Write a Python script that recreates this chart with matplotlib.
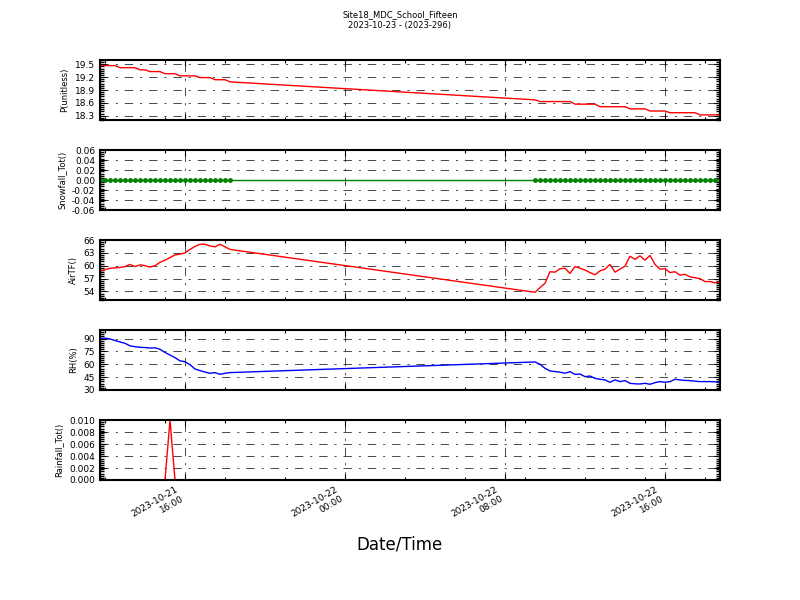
import numpy as np
import pandas as pd
import matplotlib
matplotlib.use('Agg')
import matplotlib.pyplot as plt
import matplotlib.dates as mdates
from matplotlib.ticker import MultipleLocator

title = 'Site18_MDC_School_Fifteen\n2023-10-23 - (2023-296)'

# two logging stretches, 15 min apart, with a gap overnight
times_a = pd.date_range('2023-10-21 11:45', '2023-10-21 18:15', freq='15min')
times_b = pd.date_range('2023-10-22 09:30', '2023-10-22 18:45', freq='15min')

pressure_a = [19.47, 19.47, 19.47, 19.47, 19.42, 19.42, 19.42, 19.42, 19.37, 19.37,
              19.33, 19.33, 19.33, 19.28, 19.28, 19.28, 19.23, 19.23, 19.23, 19.23,
              19.19, 19.19, 19.19, 19.14, 19.14, 19.14, 19.09]
pressure_b = [18.67, 18.63, 18.63, 18.63, 18.63, 18.63, 18.63, 18.63, 18.57, 18.57,
              18.57, 18.57, 18.57, 18.51, 18.51, 18.51, 18.51, 18.51, 18.51, 18.46,
              18.46, 18.46, 18.46, 18.41, 18.41, 18.41, 18.41, 18.37, 18.37, 18.37,
              18.37, 18.37, 18.37, 18.32, 18.32, 18.32, 18.32, 18.32]

air_a = [58.7, 59.1, 59.4, 59.5, 59.6, 59.8, 60.3, 59.8, 60.2, 60.0,
         59.7, 60.0, 60.8, 61.3, 61.9, 62.5, 62.7, 63.0, 63.8, 64.5,
         65.0, 65.0, 64.6, 64.4, 65.0, 64.4, 63.8]
air_b = [53.8, 54.9, 55.9, 58.6, 58.5, 59.3, 59.4, 58.2, 59.8, 59.4,
         59.0, 58.4, 57.9, 58.8, 59.2, 60.3, 58.5, 59.2, 59.9, 62.2,
         61.5, 62.3, 61.3, 62.4, 60.3, 59.2, 59.3, 58.4, 58.6, 57.8,
         58.0, 57.4, 57.2, 57.0, 56.3, 56.3, 56.0, 56.3]

rh_a = [90.0, 90.5, 89.5, 87.8, 86.0, 84.5, 81.5, 80.5, 79.8, 79.5,
        79.0, 79.2, 77.5, 73.8, 70.8, 67.7, 64.0, 63.0, 59.5, 54.5,
        52.6, 51.0, 49.5, 50.3, 48.3, 49.5, 50.3]
rh_b = [62.7, 60.0, 55.3, 52.2, 51.5, 50.8, 49.6, 51.4, 48.2, 48.6,
        45.6, 46.3, 43.6, 42.5, 41.8, 39.0, 41.8, 39.8, 41.0, 37.8,
        37.2, 37.0, 37.8, 36.7, 38.6, 39.8, 39.0, 39.8, 42.5, 41.8,
        41.2, 41.0, 40.3, 39.8, 39.8, 39.8, 39.6, 38.6]

snow_a = [0.0] * 27
snow_b = [0.0] * 38

rain_a = [0.0] * 14 + [0.01] + [0.0] * 12
rain_b = [0.0] * 38

t = times_a.append(times_b)
pressure = pressure_a + pressure_b
air = air_a + air_b
rh = rh_a + rh_b
snow = snow_a + snow_b
rain = rain_a + rain_b

panels = [
    (pressure, 'r-', 'P(unitless)', (18.2, 19.6), [18.3, 18.6, 18.9, 19.2, 19.5], '%.1f'),
    (snow, 'g.-', 'Snowfall_Tot()', (-0.06, 0.06), [-0.06, -0.04, -0.02, 0.0, 0.02, 0.04, 0.06], '%.2f'),
    (air, 'r-', 'AirTF()', (52, 66), [54, 57, 60, 63, 66], '%d'),
    (rh, 'b-', 'RH(%)', (30, 100), [30, 45, 60, 75, 90], '%d'),
    (rain, 'r-', 'Rainfall_Tot()', (0, 0.010), [0.0, 0.002, 0.004, 0.006, 0.008, 0.010], '%.3f'),
]

plt.rcParams['lines.scale_dashes'] = False

fig, axes = plt.subplots(5, 1, figsize=(8, 6), dpi=100, sharex=True)
fig.subplots_adjust(left=0.125, right=0.9, top=0.9, bottom=0.2, hspace=0.5)

for ax, (vals, fmt, label, ylim, yt, tfmt) in zip(axes, panels):
    if fmt == 'g.-':
        ax.plot(t, vals, color='green', marker='o', markersize=2.5, lw=1)
    else:
        ax.plot(t, vals, fmt[0], lw=1)
    ax.set_ylim(ylim)
    ax.set_yticks(yt)
    ax.set_yticklabels([tfmt % v for v in yt], fontsize=6.5)
    ax.yaxis.set_minor_locator(MultipleLocator((ylim[1] - ylim[0]) / 28.0))
    ax.set_ylabel(label, fontsize=6)
    ax.set_xlim(t[0], t[-1])
    ax.xaxis.set_major_locator(mdates.HourLocator(byhour=[0, 8, 16]))
    ax.xaxis.set_minor_locator(mdates.HourLocator(byhour=range(0, 24, 3)))
    ax.xaxis.set_major_formatter(mdates.DateFormatter('%Y-%m-%d\n%H:%M'))
    ax.tick_params(which='both', direction='in', top=True, right=True)
    ax.tick_params(which='major', length=4, width=0.8)
    ax.tick_params(axis='x', which='minor', length=2.5, width=0.8)
    ax.tick_params(axis='y', which='minor', length=3, width=1)
    ax.grid(True, which='major', color='black', linestyle=(0, (6, 5, 1.5, 5)), linewidth=0.5)
    for s in ax.spines.values():
        s.set_linewidth(1.5)

for lab in axes[-1].get_xticklabels():
    lab.set_fontsize(6.5)
    lab.set_rotation(30)
    lab.set_ha('right')

fig.suptitle(title, fontsize=6, y=0.983)
fig.text(0.5, 0.093, 'Date/Time', ha='center', va='center', fontsize=12)

fig.savefig('out.png', dpi=100)
